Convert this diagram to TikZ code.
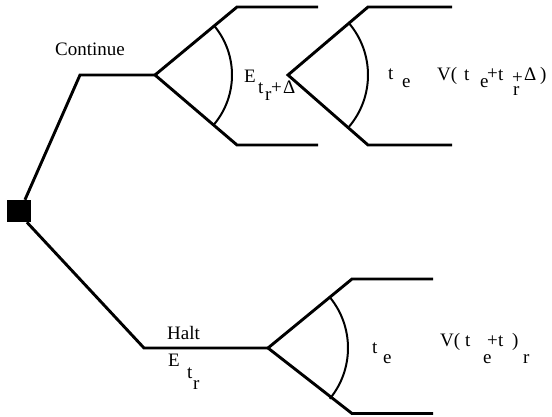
\documentclass[tikz,border=0pt]{standalone}
\usepackage{fontspec}
\setmainfont{Liberation Serif}
\begin{document}
\begin{tikzpicture}[x=1pt,y=1pt,
  branch/.style={line width=2.9pt,line join=miter},
  bow/.style={line width=2pt},
  lbl/.style={anchor=base west,inner sep=0pt,font=\fontsize{19}{21}\selectfont},
  box/.style={draw=none,fill=black,minimum width=24pt,minimum height=22pt,inner sep=0pt}]
\useasboundingbox (0,0) rectangle (552,416);
% root
\node[box] (root) at (19,205) {};
% upper branch
\coordinate (c1) at (80,341);
\coordinate (A) at (155,341);
\coordinate (Au) at (237,409);
\coordinate (Al) at (237,271);
\coordinate (Aue) at (318,409);
\coordinate (Ale) at (318,271);
\coordinate (B) at (288,341);
\coordinate (Bu) at (368,409);
\coordinate (Bl) at (368,271);
\coordinate (Bue) at (452,409);
\coordinate (Ble) at (452,271);
% lower branch
\coordinate (c2) at (144,68);
\coordinate (C) at (268,68);
\coordinate (Cu) at (352,137);
\coordinate (Cl) at (352,2.5);
\coordinate (Cue) at (433,137);
\coordinate (Cle) at (433,2.5);

\draw[branch] (root.62) -- (c1) -- (A);
\draw[branch] (Aue) -- (Au) -- (A) -- (Al) -- (Ale);
\draw[branch] (Bue) -- (Bu) -- (B) -- (Bl) -- (Ble);
\draw[branch] (root.-55) -- (c2) -- (C);
\draw[branch] (Cue) -- (Cu) -- (C) -- (Cl) -- (Cle);

\draw[bow] (A) ++(39.7:77) arc[start angle=39.7,end angle=-39.7,radius=77];
\draw[bow] (B) ++(40.4:80) arc[start angle=40.4,end angle=-40.4,radius=80];
\draw[bow] (C) ++(39.4:80) arc[start angle=39.4,end angle=-39.4,radius=80];

% labels upper
\node[lbl] (cont) at (55,360) {Continue};
\node[lbl] (u1) at (244,333) {E};
\node[lbl] (u2) at (258,323) {t};
\node[lbl] (u3) at (265,316) {r};
\node[lbl] (u4) at (271,323) {+};
\node[lbl] (u5) at (283,323) {Δ};
\node[lbl] (u6) at (388,336) {t};
\node[lbl] (u7) at (402,328) {e};
\node[lbl] (u8) at (437,335) {V(};
\node[lbl] (u9) at (464,335) {t};
\node[lbl] (u10) at (480,328) {e};
\node[lbl] (u11) at (487,336) {+};
\node[lbl] (u12) at (498,335) {t};
\node[lbl] (u13) at (512,332) {+};
\node[lbl] (u14) at (513,320) {r};
\node[lbl] (u15) at (524,335) {Δ};
\node[lbl] (u16) at (540,335) {)};
% labels lower
\node[lbl] (halt) at (167,77) {Halt};
\node[lbl] (d1) at (168,50) {E};
\node[lbl] (d2) at (187,38) {t};
\node[lbl] (d3) at (193,27) {r};
\node[lbl] (d4) at (372,63) {t};
\node[lbl] (d5) at (383,53) {e};
\node[lbl] (d6) at (440,70) {V(};
\node[lbl] (d7) at (465,70) {t};
\node[lbl] (d8) at (487,70) {+};
\node[lbl] (d9) at (498,70) {t};
\node[lbl] (d10) at (512,70) {)};
\node[lbl] (d11) at (483,53) {e};
\node[lbl] (d12) at (523,53) {r};
\end{tikzpicture}
\end{document}
